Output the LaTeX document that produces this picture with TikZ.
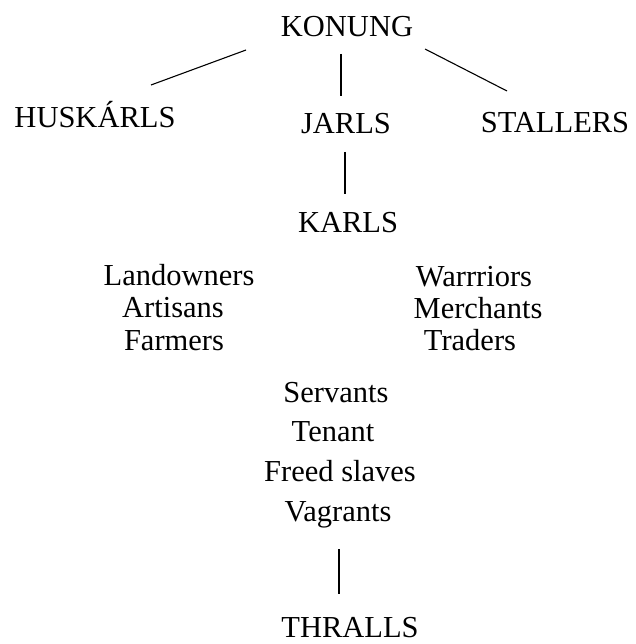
\documentclass[tikz,border=0pt]{standalone}
\usepackage{fontspec}
\setmainfont{Liberation Serif}
\usepackage{tikz}
\usetikzlibrary{positioning,calc}
\tikzset{% 
  rank label/.style={%
    anchor=base,
    inner sep=0pt,
    outer sep=0pt,
    font=\fontsize{30.5pt}{36pt}\selectfont
  }
}
\tikzset{% 
  rank link/.style={%
    line width=1.1pt,
    line cap=butt
  }
}

\begin{document}
\begin{tikzpicture}[x=1pt,y=-1pt]
  \useasboundingbox (0,0) rectangle (635,644);
  \node [rank label] (konung) at (347, 37) {KONUNG};
  \node [rank label] (huskarls) at (95, 128) {HUSKÁRLS};
  \node [rank label] (jarls) at (346, 134) {JARLS};
  \node [rank label] (stallers) at (555, 133) {STALLERS};
  \node [rank label] (karls) at (348, 232) {KARLS};
  \node [rank label] (landowners) at (179, 285) {Landowners};
  \node [rank label] (artisans) at (173, 317) {Artisans};
  \node [rank label] (farmers) at (174, 350) {Farmers};
  \node [rank label] (warriors) at (474, 286) {Warrriors};
  \node [rank label] (merchants) at (478, 318) {Merchants};
  \node [rank label] (traders) at (470, 350) {Traders};
  \node [rank label] (servants) at (336, 402) {Servants};
  \node [rank label] (tenant) at (333, 441) {Tenant};
  \node [rank label] (freed) at (340, 481) {Freed slaves};
  \node [rank label] (vagrants) at (338, 521) {Vagrants};
  \node [rank label] (thralls) at (350, 637) {THRALLS};
  \draw [rank link] ([shift={(-101,13)}]konung.base) -- ([shift={(56,-43)}]huskarls.base);
  \draw [rank link] ([shift={(-6,17)}]konung.base) -- ([shift={(-5,-38)}]jarls.base);
  \draw [rank link] ([shift={(78,12)}]konung.base) -- ([shift={(-48,-42)}]stallers.base);
  \draw [rank link] ([shift={(-1,18)}]jarls.base) -- ([shift={(-3,-38)}]karls.base);
  \draw [rank link] ([shift={(1,28)}]vagrants.base) -- ([shift={(-11,-43)}]thralls.base);
\end{tikzpicture}
\end{document}
